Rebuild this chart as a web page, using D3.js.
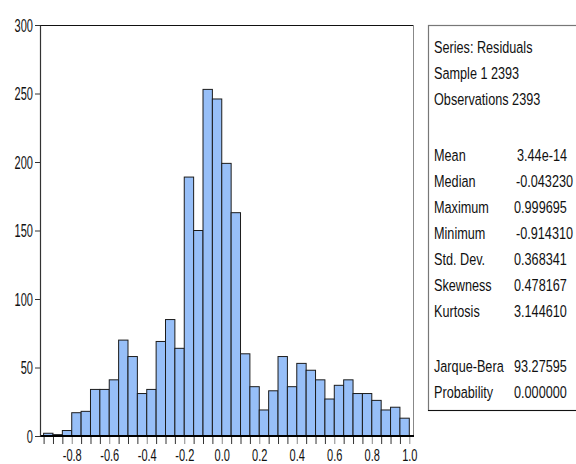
<!DOCTYPE html>
<html>
<head>
<meta charset="utf-8">
<script src="https://cdn.jsdelivr.net/npm/d3@7"></script>
<style>
  html, body { margin: 0; padding: 0; background: #fff; }
  svg { display: block; }
  text { font-family: "Liberation Sans", Arial, sans-serif; fill: #111; }
</style>
</head>
<body>
<svg id="chart" width="576" height="464"></svg>
<script>
// Histogram of residuals: bin width 0.05, from -0.95 to 1.00
const binStart = -0.95;
const binWidth = 0.05;
const counts = [
  2, 1, 4, 17, 18, 34, 34, 41, 70, 58,
  31, 34, 69, 85, 64, 189, 150, 253, 246, 199,
  163, 60, 36, 19, 33, 58, 36, 53, 48, 41,
  27, 37, 41, 31, 31, 26, 19, 21, 13
];
const xTickValues = [-0.8, -0.6, -0.4, -0.2, 0.0, 0.2, 0.4, 0.6, 0.8, 1.0];
const xTickLabels = ["-0.8", "-0.6", "-0.4", "-0.2", "0.0", "0.2", "0.4", "0.6", "0.8", "1.0"];
const yTickValues = [0, 50, 100, 150, 200, 250, 300];
const yTickLabels = ["0", "50", "100", "150", "200", "250", "300"];

// Descriptive statistics panel
const statsHeader = ["Series: Residuals", "Sample 1 2393", "Observations 2393"];
const statNames = ["Mean", "Median", "Maximum", "Minimum", "Std. Dev.", "Skewness", "Kurtosis"];
const statValues = ["3.44e-14", "-0.043230", "0.999695", "-0.914310", "0.368341", "0.478167", "3.144610"];
const testNames = ["Jarque-Bera", "Probability"];
const testValues = ["93.27595", "0.000000"];

const svg = d3.select("#chart");

const frame = { left: 40, right: 413, top: 25, bottom: 436 };
const x = d3.scaleLinear().domain([-0.95, 1.0]).range([43.6, 409.3]);
const y = d3.scaleLinear().domain([0, 300]).range([frame.bottom, frame.top]);

const bins = counts.map((c, i) => ({
  x0: +(binStart + i * binWidth).toFixed(2),
  x1: +(binStart + (i + 1) * binWidth).toFixed(2),
  count: c
}));

// Plot frame: top and right edges
svg.append("line")
  .attr("x1", frame.left).attr("x2", frame.right)
  .attr("y1", frame.top + 0.5).attr("y2", frame.top + 0.5)
  .attr("stroke", "#111").attr("stroke-width", 1.2);
svg.append("line")
  .attr("x1", frame.right + 0.5).attr("x2", frame.right + 0.5)
  .attr("y1", frame.top).attr("y2", frame.bottom)
  .attr("stroke", "#888").attr("stroke-width", 1);

// Bars
svg.append("g").selectAll("rect")
  .data(bins)
  .join("rect")
  .attr("x", d => x(d.x0))
  .attr("y", d => y(d.count))
  .attr("width", d => x(d.x1) - x(d.x0))
  .attr("height", d => y(0) - y(d.count))
  .attr("fill", "#97bff8")
  .attr("stroke", "#1c1c1c")
  .attr("stroke-width", 1);

// Condensed text helper
function narrow(sel, sx, dx, dy) {
  sel.attr("x", 0).attr("y", 0).attr("dy", null)
    .attr("transform", `translate(${dx},${dy}) scale(${sx},1)`);
}

// X axis: minor ticks at every bin edge, labels at majors
const edges = d3.range(counts.length + 1).map(i => +(binStart + i * binWidth).toFixed(2));
const xAxis = d3.axisBottom(x)
  .tickValues(edges)
  .tickSize(8)
  .tickSizeOuter(0)
  .tickFormat(d => {
    const k = xTickValues.findIndex(v => Math.abs(v - d) < 1e-9);
    return k >= 0 ? xTickLabels[k] : "";
  });
const gx = svg.append("g")
  .attr("transform", `translate(0,${frame.bottom})`)
  .call(xAxis);
gx.select(".domain").remove();
gx.selectAll(".tick line")
  .attr("stroke", d => xTickValues.some(v => Math.abs(v - d) < 1e-9) ? "#888" : "#333");
gx.selectAll(".tick text")
  .attr("font-size", 17)
  .attr("text-anchor", "middle")
  .each(function () { narrow(d3.select(this), 0.65, 0, 24.5); });
svg.append("line")
  .attr("x1", frame.left).attr("x2", frame.right + 1)
  .attr("y1", frame.bottom).attr("y2", frame.bottom)
  .attr("stroke", "#000").attr("stroke-width", 2.2);

// Y axis
const yAxis = d3.axisLeft(y)
  .tickValues(yTickValues)
  .tickSize(5)
  .tickSizeOuter(0)
  .tickFormat((d, i) => yTickLabels[i]);
const gy = svg.append("g")
  .attr("transform", `translate(${frame.left},0)`)
  .call(yAxis);
gy.select(".domain").attr("stroke", "#333").attr("stroke-width", 1.2);
gy.selectAll(".tick line").attr("stroke", "#333");
gy.selectAll(".tick text")
  .attr("font-size", 17.5)
  .attr("text-anchor", "end")
  .each(function () { narrow(d3.select(this), 0.63, -7, 6.3); });

// Statistics panel
const box = { x: 428, y: 25, w: 170, h: 385 };
svg.append("rect")
  .attr("x", box.x + 0.5).attr("y", box.y + 0.5)
  .attr("width", box.w).attr("height", box.h)
  .attr("fill", "none").attr("stroke", "#777").attr("stroke-width", 1.2);
svg.append("line")
  .attr("x1", box.x).attr("x2", box.x + box.w)
  .attr("y1", box.y + box.h + 0.5).attr("y2", box.y + box.h + 0.5)
  .attr("stroke", "#111").attr("stroke-width", 1.2);

const stats = svg.append("g");
const labelX = 434, valueX = 514, lineH = 26, fs = 17, sx = 0.745;
statsHeader.forEach((t, i) => {
  stats.append("text").attr("font-size", fs).text(t)
    .call(s => narrow(s, sx, labelX, 53 + i * lineH));
});
statNames.forEach((t, i) => {
  const by = 161 + i * lineH;
  stats.append("text").attr("font-size", fs).text(t)
    .call(s => narrow(s, sx, labelX, by));
  stats.append("text").attr("font-size", fs).text(statValues[i])
    .call(s => narrow(s, sx, valueX + (i === 0 ? 3 : (statValues[i][0] === "-" ? 2 : 0)), by));
});
testNames.forEach((t, i) => {
  const by = 372 + i * lineH;
  stats.append("text").attr("font-size", fs).text(t)
    .call(s => narrow(s, sx, labelX, by));
  stats.append("text").attr("font-size", fs).text(testValues[i])
    .call(s => narrow(s, sx, valueX, by));
});
</script>
</body>
</html>
